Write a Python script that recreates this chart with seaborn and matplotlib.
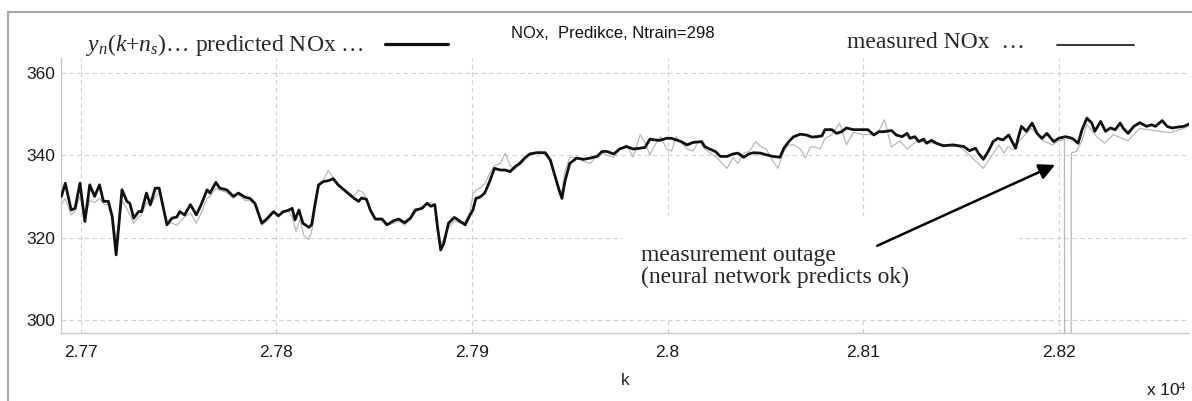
import matplotlib
matplotlib.use("Agg")
import matplotlib.pyplot as plt
from matplotlib.lines import Line2D
from matplotlib.patches import Rectangle
import seaborn as sns
import pandas as pd

# predicted NOx (thick black)
k_pred = [27690, 27692, 27695, 27697, 27699.5, 27702, 27704.5, 27707, 27709.5, 27711.5,
          27714, 27716, 27718, 27721, 27723.5, 27725, 27727, 27729.5, 27731, 27733.5,
          27735.5, 27738, 27740, 27742, 27744, 27746.5, 27749, 27750.5, 27753, 27756,
          27759, 27761.5, 27764.5, 27766, 27769, 27771, 27774.5, 27778, 27780.5, 27784,
          27786.5, 27789, 27792.5, 27795, 27798.5, 27801, 27803.5, 27806, 27808, 27809.5,
          27811.5, 27813.5, 27816.5, 27818, 27819.5, 27821.5, 27824, 27826.5, 27829, 27831.5,
          27834, 27836.5, 27839.5, 27842, 27843.5, 27846, 27848, 27850.5, 27854, 27856.5,
          27860, 27862.5, 27865.5, 27868.5, 27871, 27874.5, 27877, 27879, 27881, 27882.5,
          27884, 27885.5, 27888, 27891, 27894, 27896.5, 27899, 27900.5, 27902, 27904,
          27906.5, 27909, 27911.5, 27914.5, 27917, 27919.5, 27922, 27924.5, 27927, 27929.5,
          27933, 27937.5, 27940, 27942.5, 27944.5, 27946, 27947.5, 27950, 27953.5, 27957,
          27960.5, 27964, 27966.5, 27969, 27972.5, 27975.5, 27979, 27982.5, 27986, 27988.5,
          27991, 27993.5, 27996, 27999.5, 28002, 28004.5, 28007, 28010, 28013, 28017.5,
          28019, 28021.5, 28024.5, 28027, 28030.5, 28033.5, 28036, 28039, 28041.5, 28044,
          28047.5, 28050.5, 28054, 28057.5, 28059.5, 28062, 28064.5, 28068, 28071, 28074,
          28076.5, 28079, 28080.5, 28084, 28086.5, 28089, 28091.5, 28095, 28098.5, 28102.5,
          28105.5, 28108, 28110.5, 28114.5, 28117, 28120, 28122.5, 28124, 28126.5, 28128.5,
          28131, 28132.5, 28135, 28137.5, 28141, 28146, 28151.5, 28154.5, 28157.5, 28159,
          28161.5, 28164, 28166.5, 28169, 28171.5, 28174.5, 28178, 28179.5, 28181, 28183.5,
          28186.5, 28189, 28191.5, 28194, 28197.5, 28200, 28203.5, 28207, 28210, 28212,
          28214.5, 28217, 28218.5, 28221.5, 28224, 28226.5, 28229, 28231.5, 28233, 28235.5,
          28238.5, 28241.5, 28245, 28247.5, 28249.5, 28253, 28255.5, 28258, 28260.5, 28264,
          28268]
y_pred = [330.0, 333.2, 326.7, 327.1, 333.2, 323.9, 332.8, 330.0, 332.8, 328.8,
          328.8, 325.1, 315.8, 331.6, 328.8, 328.3, 324.7, 326.3, 326.3, 330.8,
          328.0, 332.0, 332.0, 327.5, 323.1, 324.7, 325.0, 326.3, 325.5, 328.0,
          325.5, 328.0, 331.6, 330.8, 333.4, 332.0, 331.6, 330.0, 330.8, 329.8,
          329.5, 328.3, 323.5, 324.5, 326.3, 325.3, 326.3, 326.6, 327.1, 324.3,
          326.7, 323.5, 322.5, 323.1, 327.5, 332.8, 333.6, 333.8, 334.3, 332.8,
          331.8, 330.8, 329.6, 328.8, 329.6, 329.3, 326.7, 324.5, 324.5, 323.1,
          324.1, 324.5, 323.6, 324.7, 326.7, 327.1, 328.3, 327.6, 328.0, 322.0,
          317.0, 318.5, 323.5, 324.9, 323.9, 323.1, 325.5, 326.7, 329.5, 329.8,
          330.8, 333.6, 336.8, 336.4, 336.4, 336.0, 337.2, 338.0, 339.3, 340.3,
          340.6, 340.6, 338.9, 334.8, 331.6, 329.5, 333.6, 338.0, 339.3, 339.0,
          339.3, 339.7, 340.9, 340.9, 340.3, 341.5, 342.1, 341.5, 341.7, 341.9,
          343.9, 343.7, 343.6, 344.1, 344.1, 343.7, 343.3, 342.5, 343.1, 343.3,
          342.1, 341.5, 340.9, 339.7, 339.7, 340.3, 340.5, 339.5, 340.3, 340.6,
          340.5, 340.1, 339.7, 339.5, 341.7, 343.3, 344.5, 345.1, 344.9, 344.4,
          344.5, 344.7, 346.2, 346.2, 345.3, 345.7, 346.6, 346.2, 346.2, 346.2,
          344.9, 345.7, 345.7, 346.0, 344.9, 344.5, 345.3, 344.1, 344.5, 343.3,
          343.9, 342.9, 343.6, 342.9, 342.3, 342.5, 342.1, 341.1, 341.7, 340.5,
          339.0, 340.9, 343.3, 344.1, 343.7, 344.9, 341.7, 344.5, 347.0, 345.8,
          347.8, 345.3, 344.1, 345.3, 343.3, 344.1, 344.5, 344.1, 342.9, 346.2,
          349.0, 347.8, 345.8, 348.2, 345.8, 346.6, 346.2, 347.8, 346.6, 345.3,
          347.0, 347.9, 347.0, 347.4, 347.0, 348.4, 347.0, 346.6, 346.8, 347.0,
          347.8]

# measured NOx (thin gray), with the outage near k = 28204
k_meas = [27690, 27692, 27695, 27697, 27699.5, 27702, 27704.5, 27707, 27709.5, 27712,
          27714, 27716, 27718, 27721, 27723.5, 27725, 27727, 27729.5, 27731, 27733.5,
          27735.5, 27738, 27740, 27742, 27744, 27746.5, 27749, 27751, 27753, 27756,
          27759, 27761.5, 27764.5, 27766, 27769, 27771, 27774.5, 27778, 27780.5, 27784,
          27786.5, 27789, 27792.5, 27795, 27798.5, 27801, 27803.5, 27806, 27808, 27810,
          27812, 27814, 27816.5, 27818, 27819.5, 27821.5, 27824, 27826.5, 27829, 27831.5,
          27834, 27836.5, 27839.5, 27842, 27844, 27846, 27848, 27850.5, 27854, 27856.5,
          27860, 27862.5, 27865.5, 27868.5, 27871, 27874.5, 27877, 27879, 27881, 27882.5,
          27884, 27885.5, 27888, 27891, 27894, 27896.5, 27899, 27900.5, 27902, 27904,
          27906.5, 27909, 27911.5, 27914.5, 27917, 27919.5, 27922, 27924.5, 27927, 27929.5,
          27933, 27935, 27937.5, 27940, 27942.5, 27944.5, 27946, 27947.5, 27950, 27953.5,
          27957, 27960.5, 27964, 27966.5, 27969, 27972.5, 27975.5, 27979, 27982.5, 27986,
          27988.5, 27991, 27993.5, 27996.5, 27999.5, 28002, 28004.5, 28007, 28010, 28013,
          28016, 28019, 28022, 28025, 28028, 28030.5, 28033.5, 28036, 28039, 28042,
          28045, 28048, 28050.5, 28054, 28056.5, 28059.5, 28062, 28064.5, 28068, 28070.5,
          28073, 28075.5, 28078, 28080.5, 28084, 28088, 28091.5, 28095, 28100, 28107,
          28111, 28114.5, 28119, 28122.5, 28127.5, 28134.5, 28141, 28149.5, 28154.5, 28161.5,
          28166, 28169.5, 28172, 28174, 28177, 28180, 28186, 28192, 28197, 28200,
          28203, 28203.5, 28206, 28206.5, 28209, 28212, 28214.5, 28219.5, 28223.5, 28228,
          28235.5, 28241.5, 28248.5, 28257, 28264, 28268]
y_meas = [328.0, 329.5, 325.5, 326.5, 330.0, 324.5, 329.0, 328.5, 329.5, 328.0,
          328.0, 325.5, 319.5, 329.0, 327.0, 325.5, 323.5, 325.0, 325.5, 328.5,
          327.5, 330.0, 331.0, 327.0, 323.5, 323.5, 323.0, 324.0, 325.0, 326.0,
          323.5, 326.0, 329.5, 330.0, 332.0, 331.5, 331.0, 329.5, 330.5, 329.0,
          329.0, 328.0, 323.0, 324.0, 326.0, 325.0, 326.0, 326.5, 325.0, 321.5,
          324.5, 320.5, 319.5, 321.5, 326.0, 332.0, 334.0, 336.3, 334.5, 333.0,
          332.0, 331.0, 330.0, 331.5, 331.0, 329.5, 326.5, 324.5, 324.0, 323.0,
          323.5, 324.0, 323.0, 324.5, 326.0, 327.5, 328.5, 328.5, 328.0, 323.0,
          318.5, 319.5, 322.5, 324.0, 323.5, 324.0, 326.0, 330.5, 331.5, 332.0,
          333.0, 335.5, 337.5, 338.0, 340.5, 337.5, 336.5, 338.5, 339.5, 340.0,
          340.5, 341.0, 340.0, 338.5, 335.5, 332.0, 331.0, 336.0, 339.5, 339.5,
          338.5, 338.0, 340.0, 340.5, 340.0, 339.5, 341.5, 342.5, 339.5, 345.0,
          343.0, 340.0, 342.5, 344.5, 341.5, 341.0, 344.5, 343.0, 341.5, 341.0,
          343.5, 341.5, 340.5, 339.5, 338.0, 336.8, 339.5, 338.0, 340.5, 341.0,
          343.3, 342.0, 341.5, 338.5, 336.8, 341.0, 342.5, 342.5, 341.5, 339.3,
          342.0, 342.0, 341.5, 344.0, 345.0, 347.8, 342.5, 345.5, 345.0, 345.0,
          348.6, 342.0, 343.5, 341.5, 343.5, 343.0, 342.5, 342.0, 340.0, 336.8,
          340.0, 342.5, 340.5, 342.0, 341.3, 343.5, 346.5, 343.5, 342.5, 343.5,
          343.8, 0.0, 0.0, 340.5, 340.9, 343.5, 347.5, 344.5, 342.9, 345.0,
          343.5, 346.5, 346.0, 345.5, 346.5, 347.5]

x_ticks = [27700, 27800, 27900, 28000, 28100, 28200]
x_tick_labels = ["2.77", "2.78", "2.79", "2.8", "2.81", "2.82"]
y_ticks = [300, 320, 340, 360]

sns.set_style("white")
plt.rcParams["font.family"] = ["Liberation Sans", "DejaVu Sans"]
plt.rcParams["mathtext.fontset"] = "custom"
plt.rcParams["mathtext.rm"] = "Liberation Serif"
plt.rcParams["mathtext.it"] = "Liberation Serif:italic"

W, H = 1192, 401
fig = plt.figure(figsize=(W / 100, H / 100), dpi=100)
ax = fig.add_axes([61 / W, 1 - 332.7 / H, (1189 - 61) / W, (332.7 - 58) / H])

df_meas = pd.DataFrame({"k": k_meas, "NOx": y_meas})
df_pred = pd.DataFrame({"k": k_pred, "NOx": y_pred})
sns.lineplot(data=df_meas, x="k", y="NOx", ax=ax, color="#b8b8b8", lw=0.9,
             estimator=None, sort=False, zorder=2)
sns.lineplot(data=df_pred, x="k", y="NOx", ax=ax, color="#111111", lw=2.0,
             estimator=None, sort=False, zorder=3)

ax.set_xlim(27689.8, 28266.7)
ax.set_ylim(296.9, 363.6)
ax.set_xticks(x_ticks)
ax.set_xticklabels(x_tick_labels)
ax.set_yticks(y_ticks)
ax.tick_params(axis="both", length=0, labelsize=12.5, colors="#1a1a1a")
ax.tick_params(axis="x", pad=9)
ax.tick_params(axis="y", pad=4)
ax.set_xlabel("k", fontsize=12.5, labelpad=9)
ax.set_ylabel("")
ax.grid(True, color="#cfcfcf", lw=0.8, linestyle=(0, (4, 3)))
ax.set_axisbelow(True)
for side in ["top", "right"]:
    ax.spines[side].set_visible(False)
for side in ["left", "bottom"]:
    ax.spines[side].set_color("#c8c8c8")
    ax.spines[side].set_linewidth(1.0)

# white box behind the annotation text
ax.add_patch(Rectangle((27977, 300.5), 203, 24.8, facecolor="white",
                       edgecolor="none", zorder=1))
ax.text(27986.5, 318.2, "measurement outage\n(neural network predicts ok)",
        family="Liberation Serif", fontsize=17, va="top", ha="left",
        linespacing=1.05, zorder=4)
ax.annotate("", xy=(28198.2, 337.65), xytext=(28107.2, 318.0),
            arrowprops=dict(arrowstyle="-|>", color="black", lw=1.8,
                            mutation_scale=24, shrinkA=0, shrinkB=0), zorder=5)

# title and legend-like texts above the axes
fig.text(511 / W, 1 - 38 / H, "NOx,  Predikce, Ntrain=298", fontsize=12,
         va="baseline", ha="left", color="#111111")
fig.text(86 / W, 1 - 51 / H, r"$y_n(k{+}n_s)$… predicted NOx …",
         family="Liberation Serif", fontsize=17, va="baseline", ha="left")
fig.add_artist(Line2D([385 / W, 448 / W], [1 - 44 / H, 1 - 44 / H],
                      color="#111111", lw=2.3))
fig.text(847 / W, 1 - 48 / H, "measured NOx  …",
         family="Liberation Serif", fontsize=17, va="baseline", ha="left")
fig.add_artist(Line2D([1057 / W, 1134 / W], [1 - 45 / H, 1 - 45 / H],
                      color="#111111", lw=1.2))
fig.text(1187 / W, 1 - 396 / H, r"x 10$^4$", fontsize=12.5, va="baseline",
         ha="right", color="#1a1a1a")

# outer frame of the original figure window
fig.add_artist(Line2D([8 / W, 1.0], [1 - 12 / H, 1 - 12 / H], color="#a8a8a8", lw=1.5))
fig.add_artist(Line2D([8 / W, 8 / W], [0.0, 1 - 12 / H], color="#a8a8a8", lw=1.5))

fig.savefig("out.png", dpi=100)
